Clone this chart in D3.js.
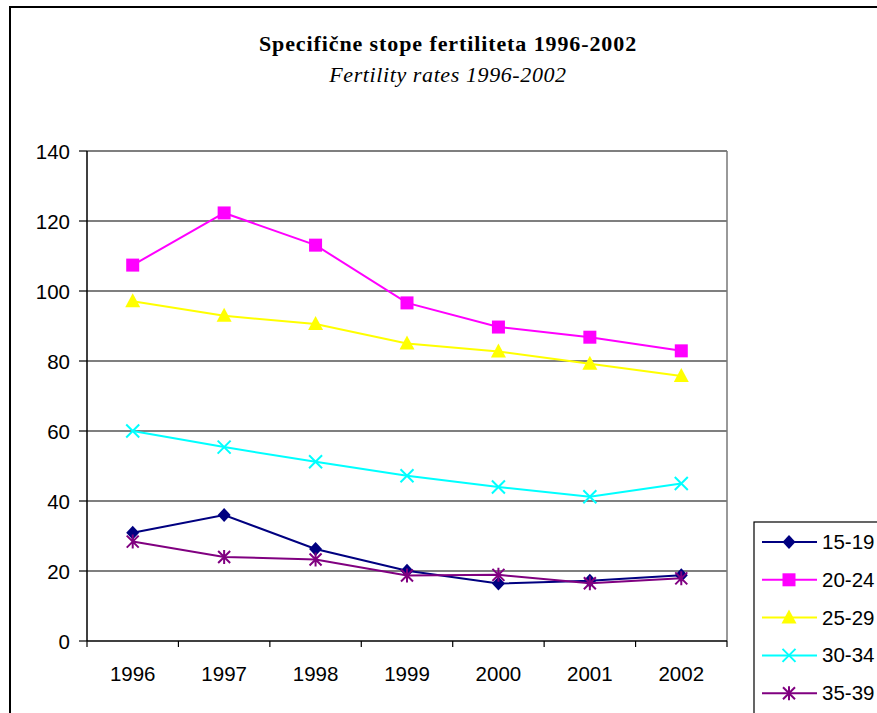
<!DOCTYPE html>
<html><head><meta charset="utf-8">
<script src="https://cdn.jsdelivr.net/npm/d3@7"></script>
<style>body{margin:0;background:#fff}svg{display:block}</style>
</head><body>
<script>
const years = ["1996","1997","1998","1999","2000","2001","2002"];
const seriesNames = ["15-19","20-24","25-29","30-34","35-39"];
const s15_19 = [30.9, 36.0, 26.3, 20.1, 16.4, 17.2, 18.8];
const s20_24 = [107.4, 122.3, 113.1, 96.6, 89.7, 86.8, 82.9];
const s25_29 = [97.1, 92.9, 90.6, 85.0, 82.7, 79.2, 75.7];
const s30_34 = [60.0, 55.4, 51.2, 47.2, 44.0, 41.2, 45.0];
const s35_39 = [28.4, 24.0, 23.3, 18.7, 18.9, 16.5, 17.9];
const yTicks = [0, 20, 40, 60, 80, 100, 120, 140];
const colors = ["#000080", "#FF00FF", "#FFFF00", "#00FFFF", "#800080"];
const symbols = ["diamond", "square", "triangle", "x", "star"];
const allSeries = [s15_19, s20_24, s25_29, s30_34, s35_39];

const W = 877, H = 713, FS = 20.5;
const svg = d3.select("body").append("svg").attr("width", W).attr("height", H);

// outer frame
svg.append("path").attr("d", `M10,${H} L10,7 L${W},7`).attr("fill","none").attr("stroke","#000").attr("stroke-width",2);

function stext(g, x, y, txt, anchor) {
  return g.append("text").attr("x", x).attr("y", y).attr("text-anchor", anchor).text(txt);
}
stext(svg, 448, 51, "Specifične stope fertiliteta 1996-2002", "middle")
  .attr("font-family","Liberation Serif").attr("font-weight","bold").attr("font-size",22).attr("letter-spacing","0.9px");
stext(svg, 448, 82, "Fertility rates 1996-2002", "middle")
  .attr("font-family","Liberation Serif").attr("font-style","italic").attr("font-size",22).attr("letter-spacing","0.6px");

const x0 = 87, x1 = 727, y0 = 641, y1 = 151;
const x = d3.scaleBand().domain(years).range([x0, x1]);
const y = d3.scaleLinear().domain([0, 140]).range([y0, y1]);

// gridlines
svg.append("g").selectAll("line").data(yTicks.filter(d => d > 0)).join("line")
  .attr("x1", x0).attr("x2", x1).attr("y1", d => y(d)).attr("y2", d => y(d))
  .attr("stroke", "#555").attr("stroke-width", 1.4);
svg.append("line").attr("x1", x1).attr("x2", x1).attr("y1", y1).attr("y2", y0).attr("stroke","#777").attr("stroke-width",1.5);

// y axis
svg.append("line").attr("x1", x0).attr("x2", x0).attr("y1", y1).attr("y2", y0).attr("stroke","#000").attr("stroke-width",1.5);
svg.append("g").selectAll("line").data(yTicks).join("line")
  .attr("x1", x0 - 8).attr("x2", x0).attr("y1", d => y(d)).attr("y2", d => y(d)).attr("stroke","#000").attr("stroke-width",1.2);
const yl = svg.append("g").attr("font-family","Liberation Sans").attr("font-size",FS);
yTicks.forEach(t => stext(yl, 70, y(t) + 7.5, String(t), "end"));

// x axis
svg.append("line").attr("x1", x0).attr("x2", x1).attr("y1", y0).attr("y2", y0).attr("stroke","#000").attr("stroke-width",1.5);
const bounds = years.map(d => x(d)).concat([x1]);
svg.append("g").selectAll("line").data(bounds).join("line")
  .attr("x1", d => d).attr("x2", d => d).attr("y1", y0).attr("y2", y0 + 6).attr("stroke","#000").attr("stroke-width",1.2);
const xl = svg.append("g").attr("font-family","Liberation Sans").attr("font-size",FS);
years.forEach(yr => stext(xl, x(yr) + x.bandwidth()/2, y0 + 40, yr, "middle"));

function marker(g, cx, cy, kind, color) {
  if (kind === "diamond") {
    g.append("path").attr("d", `M${cx},${cy-7} L${cx+6.5},${cy} L${cx},${cy+7} L${cx-6.5},${cy} Z`).attr("fill", color);
  } else if (kind === "square") {
    g.append("rect").attr("x", cx-6.5).attr("y", cy-6.5).attr("width",13).attr("height",13).attr("fill", color);
  } else if (kind === "triangle") {
    g.append("path").attr("d", `M${cx},${cy-8} L${cx+7.5},${cy+6} L${cx-7.5},${cy+6} Z`).attr("fill", color);
  } else if (kind === "x") {
    g.append("path").attr("d", `M${cx-6.5},${cy-6.5} L${cx+6.5},${cy+6.5} M${cx-6.5},${cy+6.5} L${cx+6.5},${cy-6.5}`).attr("stroke", color).attr("stroke-width",2);
  } else if (kind === "star") {
    g.append("path").attr("d", `M${cx-6},${cy-6} L${cx+6},${cy+6} M${cx-6},${cy+6} L${cx+6},${cy-6} M${cx},${cy-7} L${cx},${cy+7}`).attr("stroke", color).attr("stroke-width",2);
  }
}

const line = d3.line().x((d, i) => x(years[i]) + x.bandwidth()/2).y(d => y(d));
allSeries.forEach((s, k) => {
  const g = svg.append("g");
  g.append("path").datum(s).attr("d", line).attr("fill","none").attr("stroke", colors[k]).attr("stroke-width", 2);
  s.forEach((v, i) => marker(g, x(years[i]) + x.bandwidth()/2, y(v), symbols[k], colors[k]));
});

// legend
const lg = svg.append("g");
lg.append("rect").attr("x", 754).attr("y", 522).attr("width", 140).attr("height", 220).attr("fill","#fff").attr("stroke","#000").attr("stroke-width",1.2);
seriesNames.forEach((n, k) => {
  const cy = 542 + k * 37.8;
  lg.append("line").attr("x1", 762).attr("x2", 817).attr("y1", cy).attr("y2", cy).attr("stroke", colors[k]).attr("stroke-width", 2);
  marker(lg, 789, cy, symbols[k], colors[k]);
  stext(lg, 822, cy + 7, n, "start").attr("font-family","Liberation Sans").attr("font-size",FS);
});
</script>
</body></html>
